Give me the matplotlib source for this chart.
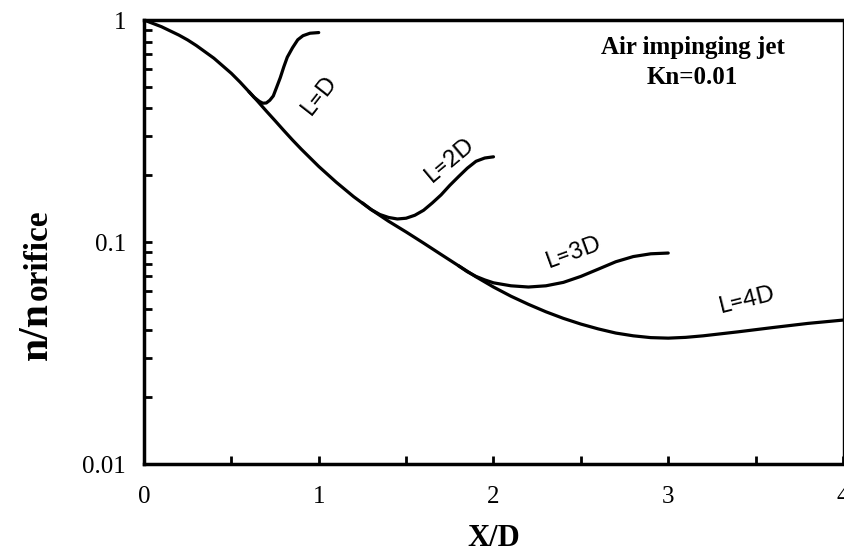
import matplotlib.pyplot as plt
from matplotlib.ticker import FixedLocator, LogLocator, NullFormatter

# main curve (L=4D), covers the whole range
x_l4 = [0, 0.1, 0.2, 0.25, 0.3, 0.4, 0.5, 0.55, 0.6, 0.65, 0.7, 0.75, 0.8, 0.85,
        0.9, 1.0, 1.1, 1.2, 1.3, 1.4, 1.5, 1.6, 1.7, 1.8, 1.9, 2.0, 2.1, 2.2, 2.3,
        2.4, 2.5, 2.6, 2.7, 2.8, 2.9, 3.0, 3.1, 3.2, 3.4, 3.6, 3.8, 4.0]
n_l4 = [1.0, 0.933, 0.855, 0.813, 0.767, 0.673, 0.575, 0.525, 0.476, 0.431,
        0.389, 0.352, 0.318, 0.288, 0.262, 0.219, 0.186, 0.160, 0.140, 0.124,
        0.111, 0.0989, 0.0879, 0.0782, 0.0697, 0.0627, 0.0570, 0.0524, 0.0485,
        0.0453, 0.0427, 0.0406, 0.0389, 0.0378, 0.0371, 0.0369, 0.0372, 0.0378,
        0.0394, 0.0412, 0.0430, 0.0445]

# branches that leave the main curve
x_l1 = [0.6, 0.63, 0.66, 0.68, 0.70, 0.72, 0.74, 0.76, 0.78, 0.80, 0.82, 0.85,
        0.88, 0.91, 0.95, 1.0]
n_l1 = [0.476, 0.449, 0.43, 0.422, 0.423, 0.435, 0.455, 0.50, 0.55, 0.615, 0.68,
        0.75, 0.815, 0.85, 0.872, 0.878]

x_l2 = [1.25, 1.3, 1.35, 1.4, 1.45, 1.5, 1.55, 1.6, 1.65, 1.7, 1.75, 1.8, 1.85,
        1.9, 1.95, 2.0]
n_l2 = [0.150, 0.140, 0.133, 0.129, 0.127, 0.128, 0.132, 0.139, 0.150, 0.163,
        0.180, 0.197, 0.215, 0.231, 0.239, 0.242]

x_l3 = [1.8, 1.85, 1.9, 1.95, 2.0, 2.1, 2.2, 2.3, 2.4, 2.5, 2.6, 2.7, 2.8, 2.9, 3.0]
n_l3 = [0.0782, 0.0735, 0.070, 0.0675, 0.0655, 0.0635, 0.0627, 0.0635, 0.0658,
        0.070, 0.0755, 0.0815, 0.086, 0.0885, 0.0892]

labels = ["L=D", "L=2D", "L=3D", "L=4D"]
label_pos = [(1.0, 0.46), (1.75, 0.235), (2.46, 0.090), (3.45, 0.055)]
label_rot = [52, 40, 20, 14]

fig = plt.figure(figsize=(8.45, 5.53), dpi=100)
ax = fig.add_axes([0.1704, 0.1609, 0.8272, 0.8029])

for xs, ys in [(x_l4, n_l4), (x_l1, n_l1), (x_l2, n_l2), (x_l3, n_l3)]:
    ax.plot(xs, ys, color="black", lw=2.3, solid_joinstyle="round",
            solid_capstyle="round")

for txt, (tx, ty), rot in zip(labels, label_pos, label_rot):
    ax.text(tx, ty, txt, rotation=rot, ha="center", va="center",
            fontsize=17, family="Lato", rotation_mode="anchor")

ax.set_yscale("log")
ax.set_xlim(0, 4)
ax.set_ylim(0.01, 1)

ax.xaxis.set_major_locator(FixedLocator([0, 1, 2, 3, 4]))
ax.xaxis.set_minor_locator(FixedLocator([0.5, 1.5, 2.5, 3.5]))
ax.yaxis.set_major_locator(FixedLocator([0.01, 0.1, 1]))
ax.yaxis.set_minor_locator(LogLocator(base=10, subs=range(2, 10)))
ax.yaxis.set_minor_formatter(NullFormatter())
ax.set_xticklabels(["0", "1", "2", "3", "4"])
ax.set_yticklabels(["0.01", "0.1", "1"])

ax.tick_params(which="both", direction="in", length=6, width=2,
               top=False, right=False)
ax.tick_params(axis="x", pad=16, labelsize=18)
ax.tick_params(axis="y", pad=13, labelsize=18)
for lab in ax.get_xticklabels() + ax.get_yticklabels():
    lab.set_family("Liberation Serif")

for side in ["left", "bottom", "top"]:
    ax.spines[side].set_linewidth(2.5)
ax.spines["right"].set_linewidth(1)

ax.set_xlabel("X/D", fontsize=22, fontweight="bold", family="Liberation Serif",
              labelpad=11)

ax.text(0.785, 0.965, "Air impinging jet\nKn=0.01", transform=ax.transAxes,
        ha="center", va="top", fontsize=18, fontweight="bold",
        family="Liberation Serif", linespacing=1.4)

# y label: big "n/n" and smaller "orifice" on the same baseline
fig.text(0.0556, 0.349, "n/n", rotation=90, rotation_mode="anchor",
         ha="left", va="baseline", fontsize=30, fontweight="bold",
         family="Liberation Serif")
fig.text(0.0556, 0.458, "orifice", rotation=90, rotation_mode="anchor",
         ha="left", va="baseline", fontsize=24, fontweight="bold",
         family="Liberation Serif")

fig.savefig("out.png", dpi=100)
